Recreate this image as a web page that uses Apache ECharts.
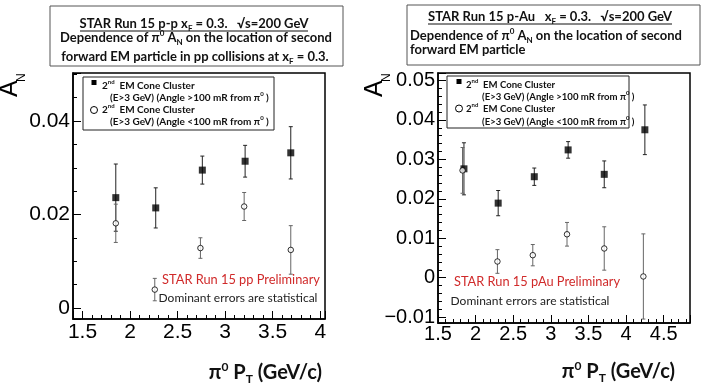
<!DOCTYPE html>
<html>
<head>
<meta charset="utf-8">
<script src="https://cdn.jsdelivr.net/npm/echarts@6/dist/echarts.min.js"></script>
<style>
  html, body { margin: 0; padding: 0; background: #fff; }
  #main { width: 706px; height: 390px; }
</style>
</head>
<body>
<div id="main"></div>
<script>
// p+p, x_F = 0.3
var ppPt = [1.85, 2.27, 2.76, 3.21, 3.69];
var ppFar = [0.0236, 0.0214, 0.0295, 0.0314, 0.0332];
var ppFarErr = [0.0072, 0.0043, 0.0030, 0.0034, 0.0056];
var ppNearPt = [1.85, 2.26, 2.74, 3.20, 3.69];
var ppNear = [0.0181, 0.0039, 0.0128, 0.0217, 0.0124];
var ppNearErr = [0.0041, 0.0024, 0.0022, 0.0030, 0.0052];

// p+Au, x_F = 0.3
var pauPt = [1.845, 2.30, 2.78, 3.23, 3.71, 4.25];
var pauFar = [0.0276, 0.0189, 0.0256, 0.0324, 0.0262, 0.0375];
var pauFarErr = [0.0066, 0.0032, 0.0022, 0.0021, 0.0034, 0.0063];
var pauNearPt = [1.826, 2.29, 2.76, 3.215, 3.71, 4.23];
var pauNear = [0.0272, 0.0041, 0.0057, 0.0110, 0.0074, 0.0003];
var pauNearErr = [0.0058, 0.0030, 0.0027, 0.0030, 0.0055, 0.0108];

var chart = echarts.init(document.getElementById('main'));

function pts(xs, ys) {
  return xs.map(function (x, i) { return [x, ys[i]]; });
}
function bars(xs, ys, es) {
  return xs.map(function (x, i) { return [x, ys[i] - es[i], ys[i] + es[i]]; });
}
function onStep(v, step) {
  var k = v / step;
  return Math.abs(k - Math.round(k)) < 1e-6;
}
function fmtNum(v) {
  var s = String(+v.toFixed(4));
  return s.replace('-', '\u2212');
}

function xAxisOf(gi, min, max, fs, margin) {
  return {
    type: 'value', gridIndex: gi, min: min, max: max,
    minInterval: 0.5, maxInterval: 0.5,
    axisLine: { show: true, onZero: false, lineStyle: { color: '#000', width: 1.5 } },
    axisTick: { show: true, inside: true, length: 8, lineStyle: { color: '#000' } },
    minorTick: { show: true, splitNumber: 5, length: 4, lineStyle: { color: '#000' } },
    splitLine: { show: false },
    axisLabel: {
      fontFamily: 'Liberation Sans', fontSize: fs, color: '#000', margin: margin,
      formatter: function (v) { return onStep(v, 0.5) ? fmtNum(v) : ''; }
    }
  };
}
function yAxisOf(gi, min, max, step, minorSplit, fs) {
  return {
    type: 'value', gridIndex: gi, min: min, max: max,
    minInterval: step, maxInterval: step,
    axisLine: { show: true, onZero: false, lineStyle: { color: '#000', width: 1.5 } },
    axisTick: { show: true, inside: true, length: 8, lineStyle: { color: '#000' } },
    minorTick: { show: true, splitNumber: minorSplit, length: 4, lineStyle: { color: '#000' } },
    splitLine: { show: false },
    axisLabel: {
      fontFamily: 'Liberation Sans', fontSize: fs, color: '#000', margin: 3,
      formatter: function (v) { return onStep(v, step) ? fmtNum(v) : ''; }
    }
  };
}

function errRender(color) {
  return function (params, api) {
    var x = api.value(0);
    var p1 = api.coord([x, api.value(2)]);
    var p2 = api.coord([x, api.value(1)]);
    var c = 2;
    var st = { stroke: color, lineWidth: 1 };
    return {
      type: 'group',
      children: [
        { type: 'line', shape: { x1: p1[0], y1: p1[1], x2: p2[0], y2: p2[1] }, style: st },
        { type: 'line', shape: { x1: p1[0] - c, y1: p1[1], x2: p1[0] + c, y2: p1[1] }, style: st },
        { type: 'line', shape: { x1: p2[0] - c, y1: p2[1], x2: p2[0] + c, y2: p2[1] }, style: st }
      ]
    };
  };
}

function errSeries(gi, data, color) {
  return {
    type: 'custom', xAxisIndex: gi, yAxisIndex: gi, z: 2,
    renderItem: errRender(color),
    encode: { x: 0, y: [1, 2] },
    data: data, silent: true
  };
}
function farSeries(gi, data) {
  return {
    type: 'scatter', xAxisIndex: gi, yAxisIndex: gi, z: 3,
    symbol: 'rect', symbolSize: 7,
    itemStyle: { color: '#000' }, data: data
  };
}
function nearSeries(gi, data) {
  return {
    type: 'scatter', xAxisIndex: gi, yAxisIndex: gi, z: 4,
    symbol: 'circle', symbolSize: 5.5,
    itemStyle: { color: '#fff', borderColor: '#000', borderWidth: 1 }, data: data
  };
}

// rich text pieces
var F = 'Lato';
function rich(size, weight, color) {
  var s = Math.round(size * 0.62);
  return {
    b: { fontFamily: F, fontWeight: weight, fontSize: size, lineHeight: size + 4, fill: color },
    sub: { fontFamily: F, fontWeight: weight, fontSize: s, lineHeight: s, verticalAlign: 'bottom', fill: color },
    sup: { fontFamily: F, fontWeight: weight, fontSize: s, lineHeight: s, verticalAlign: 'top', fill: color }
  };
}
function txt(x, y, text, size, align, weight, color) {
  return {
    type: 'text', x: x, y: y, z: 10,
    style: {
      text: text, rich: rich(size, weight || 'bold', color || '#111'),
      align: align, textAlign: align, verticalAlign: 'middle', textVerticalAlign: 'middle'
    }
  };
}
function hline(x1, x2, y, color) {
  return { type: 'line', z: 10, shape: { x1: x1, y1: y, x2: x2, y2: y }, style: { stroke: color || '#111', lineWidth: 1 } };
}
function box(x, y, w, h, color) {
  return { type: 'rect', z: 9, shape: { x: x, y: y, width: w, height: h }, style: { fill: '#fff', stroke: color, lineWidth: 1 } };
}
function yTitle(x, y) {
  return {
    type: 'group', x: x, y: y, rotation: Math.PI / 2, z: 10,
    children: [
      { type: 'text', x: 0, y: 0, style: { text: 'A', fontFamily: 'Liberation Sans', fontSize: 25, fill: '#000', align: 'left', verticalAlign: 'bottom' } },
      { type: 'text', x: 15, y: 5, style: { text: 'N', fontFamily: 'Liberation Sans', fontSize: 12, fill: '#000', align: 'left', verticalAlign: 'bottom' } }
    ]
  };
}

function legendGroup(fs, bx, by, bw, bh, mx, l1, l2, y1, y2, y3, y4, sqY, ciY) {
  return [
    box(bx, by, bw, bh, '#222'),
    { type: 'rect', z: 10, shape: { x: mx - 2.5, y: sqY - 2.5, width: 5, height: 5 }, style: { fill: '#000' } },
    { type: 'circle', z: 10, shape: { cx: mx, cy: ciY, r: 3.5 }, style: { fill: '#fff', stroke: '#000', lineWidth: 1 } },
    txt(l1, y1, '{b|2}{sup|nd}{b|  EM Cone Cluster}', fs, 'left'),
    txt(l2, y2, '{b|(E>3 GeV) (Angle >100 mR from π}{sup|0}{b| )}', fs, 'left'),
    txt(l1, y3, '{b|2}{sup|nd}{b|  EM Cone Cluster}', fs, 'left'),
    txt(l2, y4, '{b|(E>3 GeV) (Angle <100 mR from π}{sup|0}{b| )}', fs, 'left')
  ];
}

var graphics = [
  // left title box
  box(50, 6, 293, 60, '#555'),
  txt(194, 24, '{b|STAR Run 15 p-p x}{sub|F}{b| = 0.3.   √s=200 GeV}', 13, 'center'),
  hline(80, 308, 31),
  txt(196, 38, '{b|Dependence of π}{sup|0}{b| A}{sub|N}{b| on the location of second}', 13, 'center'),
  txt(195, 57, '{b|forward EM particle in pp collisions at x}{sub|F}{b| = 0.3.}', 13, 'center'),
  // right title box
  box(407, 5, 293, 60, '#555'),
  txt(550, 17, '{b|STAR Run 15 p-Au   x}{sub|F}{b| = 0.3.   √s=200 GeV}', 13, 'center'),
  hline(428, 672, 24),
  txt(410, 36, '{b|Dependence of π}{sup|0}{b| A}{sub|N}{b| on the location of second}', 13, 'left'),
  txt(410, 50, '{b|forward EM particle}', 13, 'left'),
  // y titles
  yTitle(23, 97),
  yTitle(388, 97),
  // x titles
  txt(322, 373, '{b|π}{sup|0}{b| P}{sub|T}{b| (GeV/c)}', 20, 'right'),
  txt(675, 372, '{b|π}{sup|0}{b| P}{sub|T}{b| (GeV/c)}', 20, 'right'),
  // notes
  txt(241, 280, '{b|STAR Run 15 pp Preliminary}', 12.8, 'center', 'normal', '#d02a2a'),
  txt(238, 298, '{b|Dominant errors are statistical}', 12, 'center', 'normal', '#222'),
  txt(537, 282, '{b|STAR Run 15 pAu Preliminary}', 12.8, 'center', 'normal', '#d02a2a'),
  txt(530, 301, '{b|Dominant errors are statistical}', 12, 'center', 'normal', '#222')
].concat(
  legendGroup(10, 83, 77, 191, 53, 94, 102, 110, 86, 98, 110, 122, 82.5, 110),
  legendGroup(9.6, 447, 76, 182, 52, 459, 466, 482, 85, 97, 108.5, 121.5, 81.5, 108.5)
);

var option = {
  backgroundColor: '#fff',
  animation: false,
  grid: [
    { left: 73, top: 73, width: 252, height: 246, show: true, borderColor: '#000', borderWidth: 1.5, backgroundColor: 'transparent' },
    { left: 438, top: 73, width: 252, height: 250, show: true, borderColor: '#000', borderWidth: 1.5, backgroundColor: 'transparent' }
  ],
  xAxis: [
    xAxisOf(0, 1.4, 4.05, 21, 3),
    xAxisOf(1, 1.5, 4.85, 20, 1)
  ],
  yAxis: [
    yAxisOf(0, -0.0024, 0.0503, 0.02, 4, 21),
    yAxisOf(1, -0.0115, 0.0519, 0.01, 5, 20)
  ],
  series: [
    errSeries(0, bars(ppPt, ppFar, ppFarErr), '#222'),
    errSeries(0, bars(ppNearPt, ppNear, ppNearErr), '#666'),
    farSeries(0, pts(ppPt, ppFar)),
    nearSeries(0, pts(ppNearPt, ppNear)),
    errSeries(1, bars(pauPt, pauFar, pauFarErr), '#222'),
    errSeries(1, bars(pauNearPt, pauNear, pauNearErr), '#666'),
    farSeries(1, pts(pauPt, pauFar)),
    nearSeries(1, pts(pauNearPt, pauNear))
  ],
  graphic: graphics
};
chart.setOption(option);
</script>
</body>
</html>
